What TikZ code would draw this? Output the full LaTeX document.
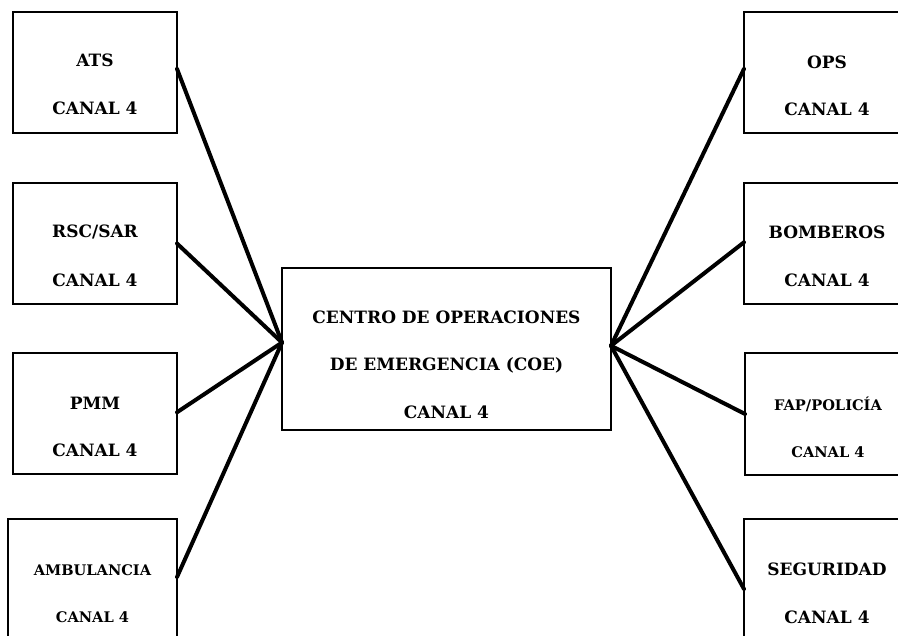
\documentclass[tikz,border=0pt]{standalone}
\usepackage{fontspec}
\newfontfamily\bfont{DejaVu Serif}[BoldFont={DejaVu Serif Bold}]
\usetikzlibrary{calc}
\tikzset{
  box/.style={draw, line width=1.8pt, inner sep=0pt, outer sep=0pt, fill=white},
  lbl/.style={inner sep=0pt, font=\bfont\bfseries\fontsize{17}{20}\selectfont},
  lblsmall/.style={inner sep=0pt, font=\bfont\bfseries\fontsize{14.6}{17}\selectfont},
  conn/.style={line width=4pt, line cap=round}
}
\begin{document}
\begin{tikzpicture}[x=1pt,y=-1pt]
\clip (0,0) rectangle (898,636);
\fill[white] (0,0) rectangle (898,636);
% boxes
\node[box, minimum width=164pt, minimum height=121pt] (ats) at (95,72.5) {};
\node[box, minimum width=164pt, minimum height=121pt] (rsc) at (95,243.5) {};
\node[box, minimum width=164pt, minimum height=121pt] (pmm) at (95,413.5) {};
\node[box, minimum width=169pt, minimum height=121pt] (amb) at (92.5,579.5) {};
\node[box, minimum width=166pt, minimum height=121pt] (ops) at (827,72.5) {};
\node[box, minimum width=166pt, minimum height=121pt] (bom) at (827,243.5) {};
\node[box, minimum width=166pt, minimum height=122pt] (fap) at (828,414) {};
\node[box, minimum width=166pt, minimum height=140pt] (seg) at (827,589) {};
\node[box, minimum width=329pt, minimum height=162pt] (coe) at (446.5,349) {};
% convergence points
\coordinate (cl) at ($(coe.north west)!0.46!(coe.south west)$);
\coordinate (cr) at ($(coe.north east)!0.48!(coe.south east)$);
% connectors
\draw[conn] ($(ats.north east)!0.47!(ats.south east)$) -- (cl);
\draw[conn] ($(rsc.north east)!0.5!(rsc.south east)$) -- (cl);
\draw[conn] ($(pmm.north east)!0.49!(pmm.south east)$) -- (cl);
\draw[conn] ($(amb.north east)!0.48!(amb.south east)$) -- (cl);
\draw[conn] ($(ops.north west)!0.47!(ops.south west)$) -- (cr);
\draw[conn] ($(bom.north west)!0.49!(bom.south west)$) -- (cr);
\draw[conn] (fap.west) -- (cr);
\draw[conn] (seg.west) -- (cr);
% labels
\node[lbl] (tats) at (95,60) {ATS};
\node[lbl] (cats) at (95,108) {CANAL 4};
\node[lbl] (trsc) at (95,232) {RSC/SAR};
\node[lbl] (crsc) at (95,280) {CANAL 4};
\node[lbl] (tpmm) at (95,403) {PMM};
\node[lbl] (cpmm) at (95,450) {CANAL 4};
\node[lblsmall] (tamb) at (92.5,570) {AMBULANCIA};
\node[lblsmall] (camb) at (92.5,617) {CANAL 4};
\node[lbl] (tops) at (827,62) {OPS};
\node[lbl] (cops) at (827,109) {CANAL 4};
\node[lbl] (tbom) at (827,232) {BOMBEROS};
\node[lbl] (cbom) at (827,280) {CANAL 4};
\node[lblsmall] (tfap) at (828,404) {FAP/POLICÍA};
\node[lblsmall] (cfap) at (828,452) {CANAL 4};
\node[lbl] (tseg) at (827,569) {SEGURIDAD};
\node[lbl] (cseg) at (827,617) {CANAL 4};
\node[lbl] (tcoe1) at (446.5,317) {CENTRO DE OPERACIONES};
\node[lbl] (tcoe2) at (446.5,365) {DE EMERGENCIA (COE)};
\node[lbl] (tcoe3) at (446.5,412) {CANAL 4};
\end{tikzpicture}
\end{document}
